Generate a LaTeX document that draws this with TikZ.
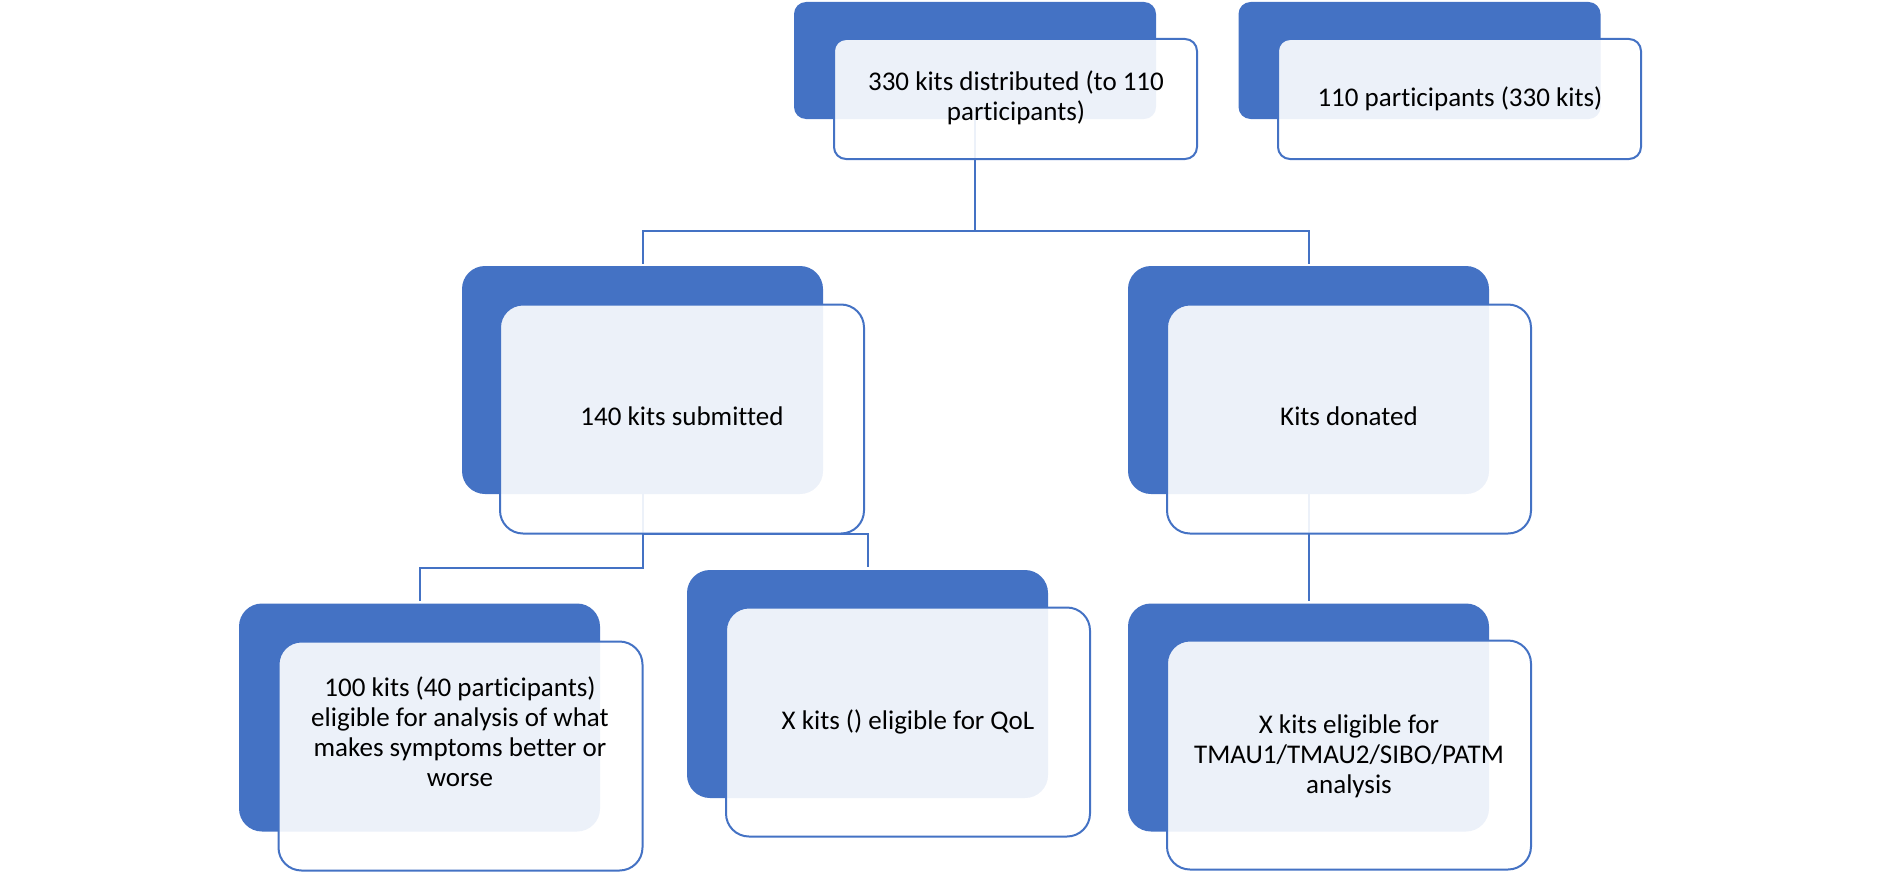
\documentclass[tikz,border=0pt]{standalone}
\usepackage{fontspec}
\setmainfont{Carlito}[Ligatures=NoCommon]
\definecolor{acc}{HTML}{4472C4}
\begin{document}
\begin{tikzpicture}[x=1bp,y=-1bp,
  bluebox/.style={fill=acc, inner sep=0pt, outer sep=0pt},
  blueS/.style={bluebox, rounded corners=12bp, minimum width=362bp, minimum height=117bp},
  blueL/.style={bluebox, rounded corners=23bp, minimum width=361bp, minimum height=228bp},
  whitebox/.style={draw=acc, line width=2bp, fill=white, fill opacity=0.9, inner sep=0pt, outer sep=0pt},
  whiteS/.style={whitebox, rounded corners=12bp, minimum width=363bp, minimum height=120bp},
  whiteL/.style={whitebox, rounded corners=23bp, minimum width=364bp, minimum height=229bp},
  conn/.style={draw=acc, line width=2bp},
  label/.style={font=\fontsize{27bp}{30bp}\selectfont, align=center, inner sep=0pt, text=black}
]
\useasboundingbox (0,0) rectangle (1880,872);
% back (blue) boxes
\node[blueS] (aB) at (975,60.5) {};
\node[blueS] (bB) at (1419.5,60.5) {};
\node[blueL] (cB) at (642.5,380) {};
\node[blueL] (dB) at (1308.5,380) {};
\node[blueL] (eB) at (419.5,717.5) {};
\node[blueL] (fB) at (867.5,684) {};
\node[blueL] (gB) at (1308.5,717.5) {};
% connectors
\coordinate (ja) at (975,231);
\draw[conn] (aB.center) -- (ja);
\draw[conn] (ja) -| ([yshift=2bp]cB.north);
\draw[conn] (ja) -| ([yshift=2bp]dB.north);
\coordinate (jc) at (642.5,568);
\coordinate (jc2) at (642.5,534);
\draw[conn] (cB.center) -- (jc) -| ([yshift=3bp]eB.north);
\draw[conn] (jc2) -| ([yshift=3bp]fB.north);
\draw[conn] (dB.center) -- ([yshift=3bp]gB.north);
% front (white) boxes
\node[whiteS] (aW) at (1015.5,99) {};
\node[whiteS] (bW) at (1459.5,99) {};
\node[whiteL] (cW) at (682,419) {};
\node[whiteL] (dW) at (1349,419) {};
\node[whiteL] (eW) at (460.5,756) {};
\node[whiteL] (fW) at (908,722) {};
\node[whiteL] (gW) at (1349,755) {};
% texts
\node[label] (aT) at (1016,98) {330 kits distributed (to 110\\participants)};
\node[label] (bT) at (1460,99) {110 participants (330 kits)};
\node[label] (cT) at (682,416) {140 kits submitted};
\node[label] (dT) at (1349,416) {Kits donated};
\node[label] (eT) at (460,732) {100 kits (40 participants)\\eligible for analysis of what\\makes symptoms better or\\worse};
\node[label] (fT) at (908,722) {X kits () eligible for QoL};
\node[label] (gT) at (1349,756) {X kits eligible for\\TMAU1/TMAU2/SIBO/PATM\\analysis};
\end{tikzpicture}
\end{document}
